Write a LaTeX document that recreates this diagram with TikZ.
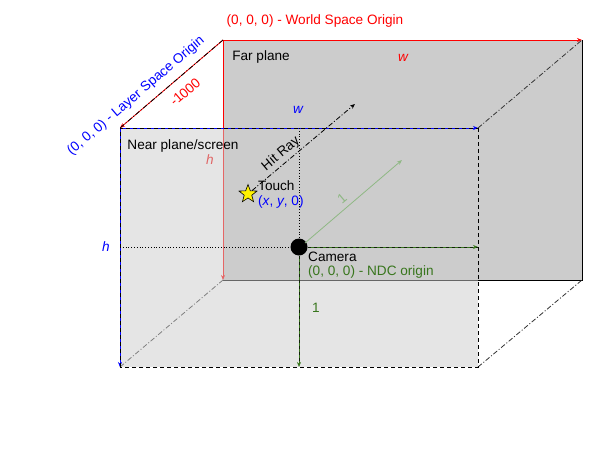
\documentclass[tikz,border=0pt]{standalone}
\usepackage{fontspec}
\setmainfont{Liberation Sans}
\usetikzlibrary{arrows.meta,shapes.geometric}
\definecolor{wred}{HTML}{FF0000}
\definecolor{lblue}{HTML}{0000FF}
\definecolor{ndc}{HTML}{38761D}
\definecolor{lgreen}{HTML}{8FB884}
\definecolor{pinkh}{HTML}{E06666}
\definecolor{farfill}{HTML}{CCCCCC}
\tikzset{
  tip/.style={-{Stealth[length=5pt,width=4pt]}},
  lbl/.style={font=\fontsize{13.6}{16}\selectfont, inner sep=0pt},
  ilbl/.style={font=\fontsize{13.6}{16}\selectfont\itshape, inner sep=0pt},
  dashdotline/.style={dash pattern=on 5pt off 2pt on 1pt off 2pt, line width=0.8pt},
  edgedash/.style={black, dash pattern=on 4pt off 3pt, line width=0.6pt},
}
\begin{document}
\begin{tikzpicture}[x=1pt,y=-1pt]
\useasboundingbox (0,0) rectangle (596,471);
% corners
\coordinate (F1) at (223,40);
\coordinate (F2) at (582,40);
\coordinate (F3) at (582,280);
\coordinate (F4) at (223,280);
\coordinate (N1) at (120,128);
\coordinate (N2) at (478,128);
\coordinate (N3) at (478,367);
\coordinate (N4) at (120,367);
% far plane
\fill[farfill] (F1) rectangle (F3);
\draw[wred, line width=0.8pt, tip] (F1) -- (F2);
\draw[wred, line width=0.8pt, tip] (F1) -- (F4);
\draw[black, line width=0.8pt] (F2) -- (F3) -- (F4);
% near plane (semi-transparent)
\fill[farfill, opacity=0.5] (N1) rectangle (N3);
% corner connectors
\draw[wred, line width=0.8pt, tip] (F1) -- (N1);
\draw[black, dashdotline] (F1) -- (N1);
\draw[black!80, dashdotline] (N2) -- (F2);
\draw[black!80, dashdotline] (N3) -- (F3);
\draw[black!50, dashdotline] (N4) -- (F4);
% near plane edges
\draw[edgedash, line width=0.8pt] (N2) -- (N3) -- (N4);
\draw[lblue, line width=0.8pt, tip] (N1) -- (N2);
\draw[lblue, line width=0.8pt, tip] (N1) -- (N4);
\draw[edgedash] (N4) -- (N1) -- (N2);
% camera
\node[circle, fill=black, minimum size=17pt, inner sep=0pt] (cam) at (299,247) {};
\coordinate (topmid) at (299,128);
\coordinate (leftmid) at (120,247);
\coordinate (rightmid) at (478,247);
\coordinate (botmid) at (299,367);
\coordinate (one) at (402,160);
\draw[black, dotted, line width=0.8pt] (leftmid) -- (cam.west);
\draw[black, dotted, line width=0.8pt] (topmid) -- (cam.north);
\draw[ndc, line width=0.8pt, tip] (cam.east) -- (rightmid);
\draw[ndc, line width=0.8pt, tip] (cam.south) -- (botmid);
\draw[black!70!ndc, dash pattern=on 3pt off 3pt, line width=0.6pt] (cam.east) -- ++(170,0);
\draw[black!70!ndc, dash pattern=on 3pt off 3pt, line width=0.6pt] (cam.south) -- ++(0,105);
\draw[lgreen, line width=0.8pt, tip] (cam) ++(6,-4) -- (one);
% touch and hit ray
\node[star, star points=5, star point ratio=2.4, fill=yellow, draw=black, line width=0.6pt, minimum size=19pt, inner sep=0pt] (touch) at (248,194) {};
\coordinate (rayend) at (355,104);
\draw[black, dashdotline, tip] (touch) -- (rayend);
% labels
\node[lbl, text=wred] (wso) at (315,21) {(0, 0, 0) - World Space Origin};
\node[lbl] (farlbl) at (261,57) {Far plane};
\node[ilbl, text=wred] (wfar) at (403,58) {w};
\node[ilbl, text=lblue] (wnear) at (298,110) {w};
\node[lbl] (nearlbl) at (183,146) {Near plane/screen};
\node[ilbl, text=pinkh] (hfar) at (210,160) {h};
\node[ilbl, text=lblue] (hnear) at (106,247) {h};
\node[lbl, text=lblue, rotate=40.5] (lso) at (136,96) {(0, 0, 0) - Layer Space Origin};
\node[lbl, text=wred, rotate=40.5] (m1000) at (185,92) {-1000};
\node[lbl, rotate=40] (hitray) at (281,154) {Hit Ray};
\node[lbl, anchor=west] (touchlbl) at (258,186) {Touch};
\node[lbl, anchor=west, text=lblue] (xy) at (258,202) {(\textit{x}, \textit{y}, 0)};
\node[lbl, anchor=west] (camlbl) at (308,257) {Camera};
\node[lbl, anchor=west, text=ndc] (ndclbl) at (308,272) {(0, 0, 0) - NDC origin};
\node[lbl, text=ndc] (onev) at (316,308) {1};
\node[lbl, text=lgreen, rotate=40] (oned) at (342,198) {1};
\end{tikzpicture}
\end{document}
